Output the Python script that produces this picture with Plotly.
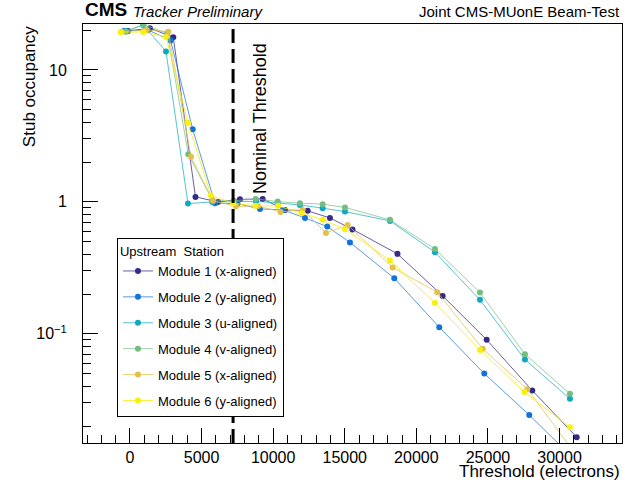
import plotly.graph_objects as go

# ---- data ----
labels = ["Module 1 (x-aligned)", "Module 2 (y-aligned)", "Module 3 (u-aligned)",
          "Module 4 (v-aligned)", "Module 5 (x-aligned)", "Module 6 (y-aligned)"]

m1_x = [-139, 1396, 3024, 4574, 6146, 7681, 9266, 10824, 12409, 13966, 15537, 18680, 21836, 24910, 28094, 31195]
m1_y = [19.75, 20.7, 17.7, 1.091, 1.0, 1.045, 1.054, 0.870, 0.855, 0.756, 0.619, 0.404, 0.194, 0.0901, 0.0372, 0.0165]

m2_x = [-419, 1257, 2842, 4379, 5936, 7507, 9078, 10684, 12221, 13778, 15363, 18457, 21599, 24742, 27884, 30726]
m2_y = [19.75, 20.1, 16.7, 3.55, 0.978, 0.97, 0.885, 0.87, 0.756, 0.650, 0.493, 0.264, 0.1124, 0.0500, 0.0243, 0.0121]

m3_x = [-279, 929, 2514, 4050, 5747, 7263, 8799, 10314, 11872, 13457, 15014, 18157, 21298, 24442, 27583, 30726]
m3_y = [19.75, 21.9, 13.8, 0.971, 1.0, 1.01, 1.01, 0.98, 0.949, 0.896, 0.844, 0.718, 0.416, 0.181, 0.0639, 0.0322]

m4_x = [-279, 929, 2605, 4071, 5747, 7263, 8778, 10314, 11872, 13457, 15014, 18157, 21298, 24442, 27583, 30726]
m4_y = [19.5, 22.1, 18.97, 2.30, 1.035, 1.02, 1.054, 1.005, 0.978, 0.961, 0.908, 0.731, 0.440, 0.206, 0.0702, 0.0351]

m5_x = [-579, 1166, 2675, 4260, 5797, 7402, 8939, 10510, 12060, 13687, 15202, 18345, 21460, 24631, 27745, 30796]
m5_y = [19.5, 20.1, 19.5, 2.20, 1.02, 0.925, 0.93, 0.840, 0.870, 0.582, 0.669, 0.318, 0.207, 0.0770, 0.0381, 0.0137]

m6_x = [-650, 929, 2514, 4050, 5656, 7214, 8764, 10335, 11976, 13478, 15014, 18157, 21298, 24442, 27549, 30726]
m6_y = [19.3, 19.4, 17.8, 3.97, 1.116, 0.974, 0.933, 0.933, 0.821, 0.731, 0.621, 0.360, 0.171, 0.0756, 0.0362, 0.0196]

nominal_threshold = 7200

x_tickvals = [0, 5000, 10000, 15000, 20000, 25000, 30000]
x_ticktext = ["0", "5000", "10000", "15000", "20000", "25000", "30000"]
y_tickvals = [0.1, 1, 10]
y_ticktext = ["10<sup>\u22121</sup>", "1", "10"]
y_minor_mantissas = [2, 3, 4, 5, 6, 7, 8, 9]
y_minor_decades = [0.01, 0.1, 1, 10]

series_x = [m1_x, m2_x, m3_x, m4_x, m5_x, m6_x]
series_y = [m1_y, m2_y, m3_y, m4_y, m5_y, m6_y]

marker_colors = ["rgb(53,42,135)", "rgb(18,114,217)", "rgb(14,168,194)",
                 "rgb(117,189,128)", "rgb(227,192,74)", "rgb(249,240,14)"]
line_colors = ["rgba(53,42,135,0.75)", "rgba(18,114,217,0.7)", "rgba(14,168,194,0.7)",
               "rgba(117,189,128,0.7)", "rgba(227,192,74,0.75)", "rgba(249,235,14,0.8)"]

FONT = "Liberation Sans, Arial, sans-serif"

y_minor_vals = [m * d for d in y_minor_decades for m in y_minor_mantissas]

fig = go.Figure()
for i in range(6):
    fig.add_trace(go.Scatter(
        x=series_x[i], y=series_y[i], name=labels[i], mode="lines+markers",
        line=dict(color=line_colors[i], width=1),
        marker=dict(color=marker_colors[i], size=6, symbol="circle"),
        legendgroup=str(i), cliponaxis=True,
    ))

fig.add_shape(type="line", x0=nominal_threshold, x1=nominal_threshold, xref="x",
              y0=0, y1=1, yref="paper", line=dict(color="black", width=3, dash="14px,6px"))

fig.update_layout(
    width=634, height=482,
    margin=dict(l=83, r=12, t=24, b=39),
    paper_bgcolor="white", plot_bgcolor="white",
    font=dict(family=FONT, color="black"),
    showlegend=True,
    legend=dict(
        x=0.063, y=0.489, xanchor="left", yanchor="top",
        bgcolor="white", bordercolor="black", borderwidth=1,
        font=dict(size=13, family=FONT),
        title=dict(text="Upstream  Station", font=dict(size=13, family=FONT)),
        tracegroupgap=6, itemwidth=30,
    ),
    xaxis=dict(
        range=[-3280, 34360], showgrid=False, zeroline=False,
        tickvals=x_tickvals, ticktext=x_ticktext,
        ticks="inside", ticklen=15, tickcolor="black", tickwidth=1,
        minor=dict(ticks="inside", ticklen=8, dtick=1000, tick0=0, tickcolor="black", showgrid=False),
        showline=True, linecolor="black", linewidth=1, mirror=True,
        tickfont=dict(size=16, family=FONT),
    ),
    yaxis=dict(
        type="log", range=[-1.827, 1.348], showgrid=False, zeroline=False,
        tickvals=y_tickvals, ticktext=y_ticktext,
        ticks="inside", ticklen=15, tickcolor="black", tickwidth=1,
        minor=dict(ticks="inside", ticklen=8, tickcolor="black", showgrid=False,
                   tickvals=y_minor_vals),
        showline=True, linecolor="black", linewidth=1, mirror=True,
        tickfont=dict(size=16, family=FONT), ticklabelstandoff=12,
    ),
)

fig.add_annotation(text="Threshold (electrons)", xref="paper", yref="paper",
                   x=1, y=-0.04, xanchor="right", yanchor="top", showarrow=False,
                   font=dict(size=17, family=FONT))
fig.add_annotation(text="Stub occupancy", xref="paper", yref="paper",
                   x=-0.099, y=1, xanchor="center", yanchor="top", textangle=-90, showarrow=False,
                   font=dict(size=17, family=FONT))
fig.add_annotation(text="<b>CMS</b>", xref="paper", yref="paper",
                   x=0, y=1.005, xanchor="left", yanchor="bottom", showarrow=False,
                   font=dict(size=19, family=FONT))
fig.add_annotation(text="<i>Tracker Preliminary</i>", xref="paper", yref="paper",
                   x=0.089, y=1.005, xanchor="left", yanchor="bottom", showarrow=False,
                   font=dict(size=15, family=FONT))
fig.add_annotation(text="Joint CMS-MUonE Beam-Test", xref="paper", yref="paper",
                   x=1, y=1.005, xanchor="right", yanchor="bottom", showarrow=False,
                   font=dict(size=15, family=FONT))
fig.add_annotation(text="Nominal Threshold", xref="paper", yref="paper",
                   x=0.328, y=0.775, xanchor="center", yanchor="middle", textangle=-90, showarrow=False,
                   font=dict(size=18, family=FONT))

fig.write_html("out.html", config={"displayModeBar": False},
               post_script="document.body.style.margin='0px';")
